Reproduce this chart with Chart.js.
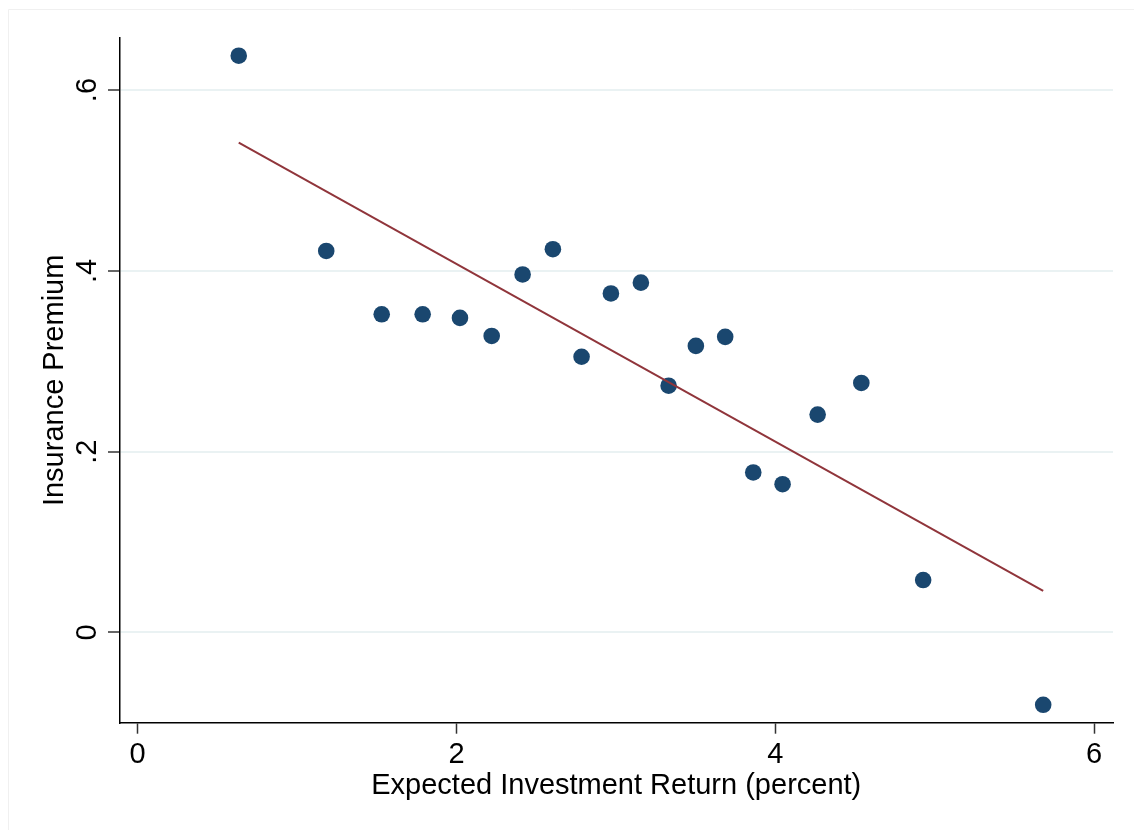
<!DOCTYPE html>
<html>
<head>
<meta charset="utf-8">
<script src="https://cdn.jsdelivr.net/npm/chart.js@4/dist/chart.umd.min.js"></script>
<style>
  html, body { margin: 0; padding: 0; background: #ffffff; }
  #wrap { width: 1134px; height: 830px; position: relative; }
</style>
</head>
<body>
<div id="wrap"><canvas id="c" width="1134" height="830"></canvas></div>
<script>
// Expected investment return (percent) and insurance premium, one entry per observation
const expectedReturn = [0.634, 1.183, 1.531, 1.788, 2.022, 2.221, 2.415, 2.605, 2.785, 2.969,
                        3.157, 3.331, 3.502, 3.686, 3.862, 4.046, 4.266, 4.540, 4.928, 5.681];
const insurancePremium = [0.638, 0.422, 0.352, 0.352, 0.348, 0.328, 0.396, 0.424, 0.305, 0.375,
                          0.387, 0.273, 0.317, 0.327, 0.177, 0.164, 0.241, 0.276, 0.058, -0.080];

// Fitted line end points
const fitX = [0.634, 5.681];
const fitY = [0.542, 0.046];

// Axis ticks and labels
const xTickValues = [0, 2, 4, 6];
const xTickLabels = ['0', '2', '4', '6'];
const yTickValues = [0, 0.2, 0.4, 0.6];
const yTickLabels = ['0', '.2', '.4', '.6'];

const FONT = 'Liberation Sans, Arial, Helvetica, sans-serif';

// Faint frame around the graph region (top and left edges)
const framePlugin = {
  id: 'frame',
  beforeDraw(chart) {
    const ctx = chart.ctx;
    ctx.save();
    ctx.fillStyle = '#ffffff';
    ctx.fillRect(0, 0, chart.width, chart.height);
    ctx.strokeStyle = '#f0f0f0';
    ctx.lineWidth = 1;
    ctx.beginPath();
    ctx.moveTo(8.5, chart.height);
    ctx.lineTo(8.5, 9.5);
    ctx.lineTo(chart.width, 9.5);
    ctx.stroke();
    ctx.restore();
  }
};

const points = expectedReturn.map((x, i) => ({ x: x, y: insurancePremium[i] }));
const fitLine = fitX.map((x, i) => ({ x: x, y: fitY[i] }));

new Chart(document.getElementById('c'), {
  type: 'scatter',
  data: {
    datasets: [
      {
        label: 'Fitted values',
        data: fitLine,
        showLine: true,
        borderColor: '#90353b',
        borderWidth: 2,
        pointRadius: 0,
        fill: false,
        order: 0
      },
      {
        label: 'Insurance Premium',
        data: points,
        backgroundColor: '#1a476f',
        borderWidth: 0,
        pointRadius: 8.3,
        order: 1
      }
    ]
  },
  options: {
    responsive: false,
    animation: false,
    devicePixelRatio: 1,
    layout: { padding: { top: 38, right: 21, left: 0, bottom: 0 } },
    plugins: {
      legend: { display: false },
      tooltip: { enabled: false }
    },
    scales: {
      x: {
        type: 'linear',
        min: -0.114,
        max: 6.119,
        afterBuildTicks: s => { s.ticks = xTickValues.map(v => ({ value: v })); },
        afterFit: s => { s.height = 107.3; },
        border: { display: true, color: '#000000', width: 1.5 },
        grid: {
          display: true,
          drawOnChartArea: false,
          drawTicks: true,
          tickLength: 11,
          tickWidth: 1.5,
          tickColor: '#333333'
        },
        ticks: {
          color: '#000000',
          font: { family: FONT, size: 29 },
          padding: 4,
          maxRotation: 0,
          callback: v => xTickLabels[xTickValues.indexOf(v)]
        },
        title: {
          display: true,
          text: 'Expected Investment Return (percent)',
          color: '#000000',
          font: { family: FONT, size: 29 },
          padding: { top: 0, bottom: 27 }
        }
      },
      y: {
        type: 'linear',
        min: -0.0998,
        max: 0.6576,
        afterBuildTicks: s => { s.ticks = yTickValues.map(v => ({ value: v })); },
        afterFit: s => { s.width = 119.5; },
        border: { display: true, color: '#000000', width: 1.5 },
        grid: {
          display: true,
          drawOnChartArea: true,
          color: '#eaf2f3',
          lineWidth: 2,
          drawTicks: true,
          tickLength: 11.5,
          tickWidth: 1.5,
          tickColor: '#333333'
        },
        ticks: {
          color: '#000000',
          font: { family: FONT, size: 29 },
          padding: 8,
          minRotation: 90,
          maxRotation: 90,
          crossAlign: 'center',
          callback: v => yTickLabels[yTickValues.indexOf(v)]
        },
        title: {
          display: true,
          text: 'Insurance Premium',
          color: '#000000',
          font: { family: FONT, size: 29 },
          padding: { top: 38, bottom: 0 }
        }
      }
    }
  },
  plugins: [framePlugin]
});
</script>
</body>
</html>
